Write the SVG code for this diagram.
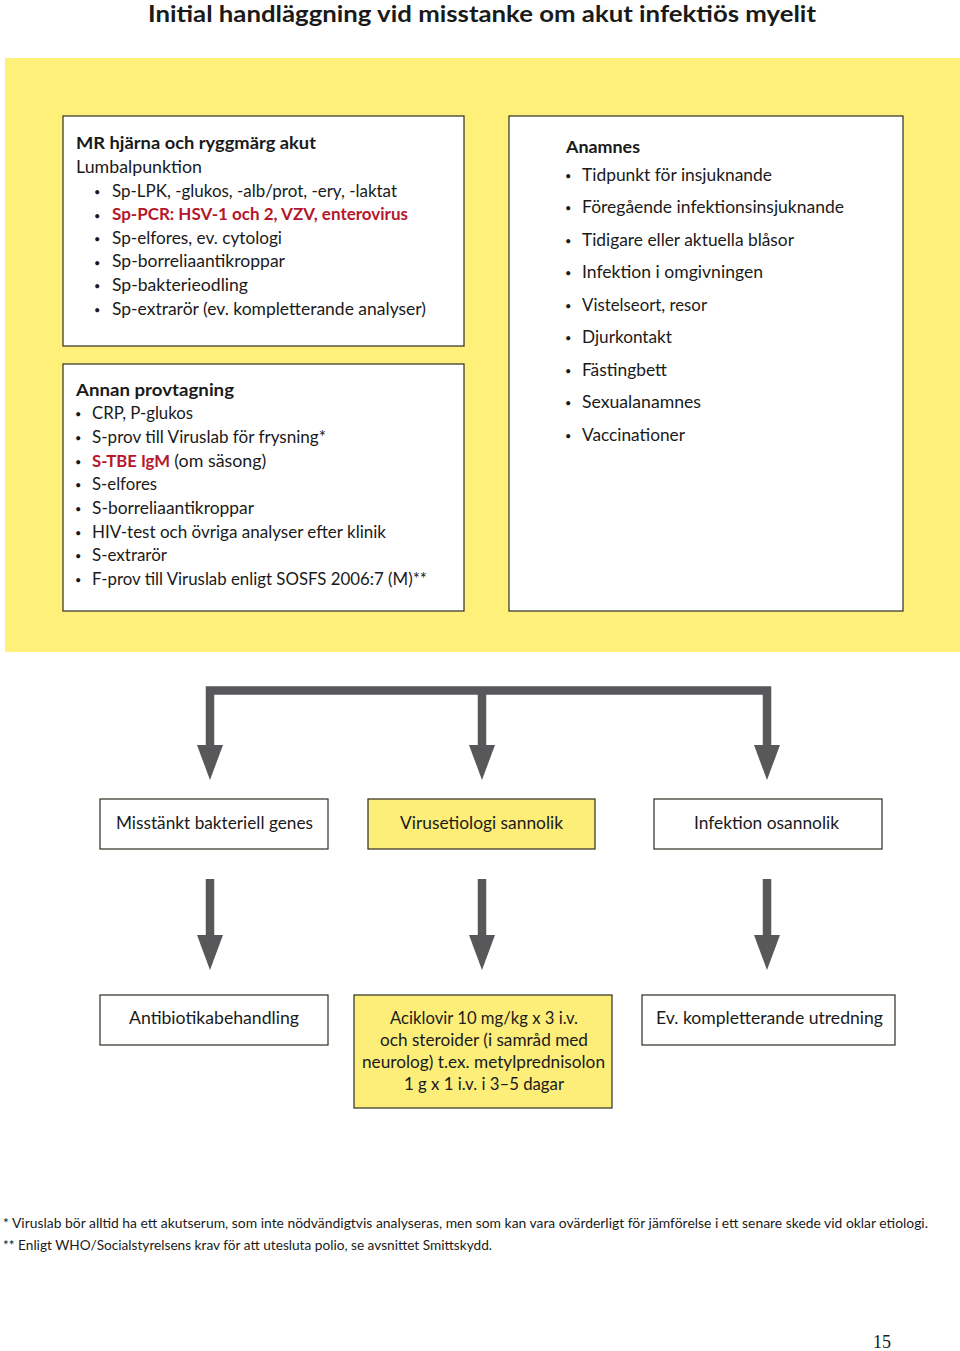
<svg xmlns="http://www.w3.org/2000/svg" width="960" height="1351" viewBox="0 0 960 1351">
<style>
text{font-family:Lato,"Open Sans","Liberation Sans",sans-serif;fill:#1a1a1a}
.t{font-size:17px}
.b{font-weight:bold}
.r{fill:#b5172c;font-weight:bold}
.bul{font-size:11px}
.box{fill:#fff;stroke:#2e2e22;stroke-width:1.2}
.ybox{fill:#fdee7a;stroke:#2e2e22;stroke-width:1.2}
.fn{font-size:13px}
.arr{fill:none;stroke:#58585a;stroke-width:8.5}
.head{fill:#58585a}
</style>
<rect width="960" height="1351" fill="#fff"/>
<text x="148" y="22" font-size="23" class="b" textLength="668" lengthAdjust="spacingAndGlyphs">Initial handläggning vid misstanke om akut infektiös myelit</text>
<rect x="5" y="58" width="955" height="594" fill="#fff07a"/>

<g id="box-mr">
<rect class="box" x="63" y="116" width="401" height="230"/>
<text class="t b" x="76" y="149" textLength="240" lengthAdjust="spacingAndGlyphs">MR hjärna och ryggmärg akut</text>
<text class="t" x="76" y="173" textLength="126" lengthAdjust="spacingAndGlyphs">Lumbalpunktion</text>
<g class="bul"><text x="94" y="196">•</text><text x="94" y="220">•</text><text x="94" y="243">•</text><text x="94" y="267">•</text><text x="94" y="290">•</text><text x="94" y="314">•</text></g>
<text class="t" x="112" y="197" textLength="285" lengthAdjust="spacingAndGlyphs">Sp-LPK, -glukos, -alb/prot, -ery, -laktat</text>
<text class="t r" x="112" y="220" textLength="296" lengthAdjust="spacingAndGlyphs">Sp-PCR: HSV-1 och 2, VZV, enterovirus</text>
<text class="t" x="112" y="244" textLength="170" lengthAdjust="spacingAndGlyphs">Sp-elfores, ev. cytologi</text>
<text class="t" x="112" y="267" textLength="173" lengthAdjust="spacingAndGlyphs">Sp-borreliaantikroppar</text>
<text class="t" x="112" y="291" textLength="136" lengthAdjust="spacingAndGlyphs">Sp-bakterieodling</text>
<text class="t" x="112" y="315" textLength="314" lengthAdjust="spacingAndGlyphs">Sp-extrarör (ev. kompletterande analyser)</text>
</g>

<g id="box-annan">
<rect class="box" x="63" y="364" width="401" height="247"/>
<text class="t b" x="76" y="396" textLength="158" lengthAdjust="spacingAndGlyphs">Annan provtagning</text>
<g class="bul"><text x="75" y="418">•</text><text x="75" y="442">•</text><text x="75" y="466">•</text><text x="75" y="489">•</text><text x="75" y="513">•</text><text x="75" y="537">•</text><text x="75" y="560">•</text><text x="75" y="584">•</text></g>
<text class="t" x="92" y="419" textLength="101" lengthAdjust="spacingAndGlyphs">CRP, P-glukos</text>
<text class="t" x="92" y="443" textLength="234" lengthAdjust="spacingAndGlyphs">S-prov till Viruslab för frysning*</text>
<text class="t" x="92" y="467"><tspan class="r" textLength="78" lengthAdjust="spacingAndGlyphs">S-TBE IgM</tspan><tspan> </tspan><tspan textLength="92" lengthAdjust="spacingAndGlyphs">(om säsong)</tspan></text>
<text class="t" x="92" y="490" textLength="65" lengthAdjust="spacingAndGlyphs">S-elfores</text>
<text class="t" x="92" y="514" textLength="162" lengthAdjust="spacingAndGlyphs">S-borreliaantikroppar</text>
<text class="t" x="92" y="538" textLength="294" lengthAdjust="spacingAndGlyphs">HIV-test och övriga analyser efter klinik</text>
<text class="t" x="92" y="561" textLength="75" lengthAdjust="spacingAndGlyphs">S-extrarör</text>
<text class="t" x="92" y="585" textLength="335" lengthAdjust="spacingAndGlyphs">F-prov till Viruslab enligt SOSFS 2006:7 (M)**</text>
</g>

<g id="box-anamnes">
<rect class="box" x="509" y="116" width="394" height="495"/>
<text class="t b" x="566" y="153" textLength="74" lengthAdjust="spacingAndGlyphs">Anamnes</text>
<g class="bul"><text x="565" y="180">•</text><text x="565" y="212">•</text><text x="565" y="245">•</text><text x="565" y="277">•</text><text x="565" y="310">•</text><text x="565" y="342">•</text><text x="565" y="375">•</text><text x="565" y="407">•</text><text x="565" y="440">•</text></g>
<text class="t" x="582" y="181" textLength="190" lengthAdjust="spacingAndGlyphs">Tidpunkt för insjuknande</text>
<text class="t" x="582" y="213" textLength="262" lengthAdjust="spacingAndGlyphs">Föregående infektionsinsjuknande</text>
<text class="t" x="582" y="246" textLength="212" lengthAdjust="spacingAndGlyphs">Tidigare eller aktuella blåsor</text>
<text class="t" x="582" y="278" textLength="181" lengthAdjust="spacingAndGlyphs">Infektion i omgivningen</text>
<text class="t" x="582" y="311" textLength="125" lengthAdjust="spacingAndGlyphs">Vistelseort, resor</text>
<text class="t" x="582" y="343" textLength="90" lengthAdjust="spacingAndGlyphs">Djurkontakt</text>
<text class="t" x="582" y="376" textLength="85" lengthAdjust="spacingAndGlyphs">Fästingbett</text>
<text class="t" x="582" y="408" textLength="119" lengthAdjust="spacingAndGlyphs">Sexualanamnes</text>
<text class="t" x="582" y="441" textLength="103" lengthAdjust="spacingAndGlyphs">Vaccinationer</text>
</g>

<g id="connectors">
<path class="arr" d="M210,745 V690.5 H767 V745 M482,690.5 V745"/>
<polygon class="head" points="197,745 223,745 210,780"/>
<polygon class="head" points="469,745 495,745 482,780"/>
<polygon class="head" points="754,745 780,745 767,780"/>
<path class="arr" d="M210,879 V936 M482,879 V936 M767,879 V936"/>
<polygon class="head" points="197,935 223,935 210,970"/>
<polygon class="head" points="469,935 495,935 482,970"/>
<polygon class="head" points="754,935 780,935 767,970"/>
</g>

<g id="node-bakteriell">
<rect class="box" x="100" y="799" width="228" height="50"/>
<text class="t" x="116" y="829" textLength="197" lengthAdjust="spacingAndGlyphs">Misstänkt bakteriell genes</text>
</g>
<g id="node-virus">
<rect class="ybox" x="368" y="799" width="227" height="50"/>
<text class="t" x="400" y="829" textLength="163" lengthAdjust="spacingAndGlyphs">Virusetiologi sannolik</text>
</g>
<g id="node-osannolik">
<rect class="box" x="654" y="799" width="228" height="50"/>
<text class="t" x="694" y="829" textLength="145" lengthAdjust="spacingAndGlyphs">Infektion osannolik</text>
</g>

<g id="node-antibiotika">
<rect class="box" x="100" y="995" width="228" height="50"/>
<text class="t" x="129" y="1024" textLength="170" lengthAdjust="spacingAndGlyphs">Antibiotikabehandling</text>
</g>
<g id="node-aciklovir">
<rect class="ybox" x="354" y="995" width="258" height="113"/>
<text class="t" x="390" y="1024" textLength="188" lengthAdjust="spacingAndGlyphs">Aciklovir 10 mg/kg x 3 i.v.</text>
<text class="t" x="380" y="1046" textLength="208" lengthAdjust="spacingAndGlyphs">och steroider (i samråd med</text>
<text class="t" x="362" y="1068" textLength="243" lengthAdjust="spacingAndGlyphs">neurolog) t.ex. metylprednisolon</text>
<text class="t" x="404" y="1090" textLength="160" lengthAdjust="spacingAndGlyphs">1 g x 1 i.v. i 3–5 dagar</text>
</g>
<g id="node-utredning">
<rect class="box" x="642" y="995" width="253" height="50"/>
<text class="t" x="656" y="1024" textLength="227" lengthAdjust="spacingAndGlyphs">Ev. kompletterande utredning</text>
</g>

<text class="fn" x="3" y="1228" textLength="925" lengthAdjust="spacingAndGlyphs">* Viruslab bör alltid ha ett akutserum, som inte nödvändigtvis analyseras, men som kan vara ovärderligt för jämförelse i ett senare skede vid oklar etiologi.</text>
<text class="fn" x="3" y="1250" textLength="489" lengthAdjust="spacingAndGlyphs">** Enligt WHO/Socialstyrelsens krav för att utesluta polio, se avsnittet Smittskydd.</text>
<text x="873" y="1348" font-size="18" style="font-family:'Liberation Serif',serif">15</text>
</svg>
